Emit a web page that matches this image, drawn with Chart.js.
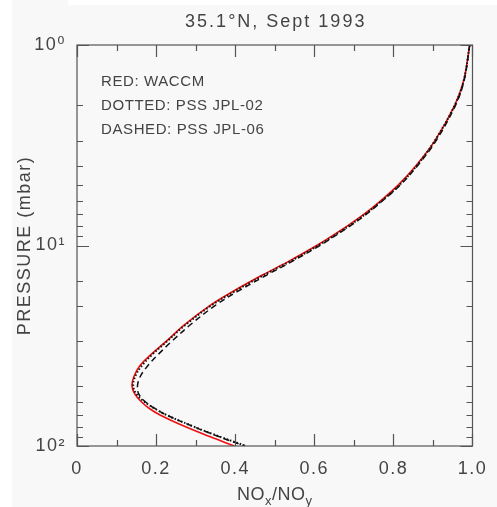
<!DOCTYPE html>
<html><head><meta charset="utf-8">
<script src="https://cdn.jsdelivr.net/npm/chart.js@4/dist/chart.umd.min.js"></script>
<style>html,body{margin:0;padding:0;background:#fff}canvas{display:block}</style>
</head><body>
<canvas id="c" width="497" height="507"></canvas>
<script>
// Pressure levels (mbar)
const pressure = [1, 1.5, 2, 3, 4, 5, 6, 7, 8, 10, 12, 14, 17, 20, 25, 30, 35, 40, 45, 50, 55, 60, 65, 70, 80, 90, 100];
// NOx/NOy, red solid: WACCM
const waccm = [0.993, 0.978, 0.955, 0.905, 0.857, 0.812, 0.767, 0.725, 0.683, 0.606, 0.535, 0.470, 0.393, 0.335, 0.270, 0.226, 0.187, 0.158, 0.144, 0.139, 0.146, 0.162, 0.183, 0.210, 0.273, 0.337, 0.398];
// dotted: PSS JPL-02
const jpl02 = [0.993, 0.978, 0.955, 0.905, 0.859, 0.815, 0.770, 0.728, 0.687, 0.610, 0.539, 0.474, 0.397, 0.338, 0.273, 0.228, 0.190, 0.163, 0.147, 0.142, 0.150, 0.170, 0.196, 0.226, 0.295, 0.362, 0.428];
// dashed: PSS JPL-06
const jpl06 = [0.993, 0.979, 0.957, 0.908, 0.861, 0.817, 0.772, 0.731, 0.690, 0.614, 0.544, 0.481, 0.405, 0.348, 0.285, 0.240, 0.205, 0.178, 0.160, 0.153, 0.156, 0.172, 0.197, 0.226, 0.294, 0.360, 0.425];
const xTickLabels = ['0', '0.2', '0.4', '0.6', '0.8', '1.0'];
const yTickLabels = ['10\u2070', '10\u00b9', '10\u00b2'];
const titleText = '35.1\u00b0N, Sept 1993';
const legendLines = ['RED: WACCM', 'DOTTED: PSS JPL-02', 'DASHED: PSS JPL-06'];

const FONT = '"Liberation Sans", Arial, "DejaVu Sans", sans-serif';
const TXT = '#444';

function pts(arr) { return pressure.map((p, i) => ({x: arr[i], y: p})); }

const decor = {
  id: 'decor',
  beforeDraw(chart) {
    const ctx = chart.ctx;
    ctx.fillStyle = '#fff';
    ctx.fillRect(0, 0, chart.width, chart.height);
    ctx.fillStyle = '#f8f8f8';
    ctx.fillRect(12, 0, 56, chart.height);
    ctx.fillRect(68, 5, chart.width - 68, chart.height - 5);
    ctx.letterSpacing = '1.5px';
  },
  afterDraw(chart) {
    const ctx = chart.ctx;
    const a = chart.chartArea;
    const xs = chart.scales.x, ys = chart.scales.y;
    ctx.save();
    ctx.strokeStyle = '#555';
    ctx.lineWidth = 1.2;
    ctx.strokeRect(a.left, a.top, a.right - a.left, a.bottom - a.top);
    ctx.beginPath();
    xs.ticks.forEach(t => {
      const px = Math.round(xs.getPixelForValue(t.value)) + 0.5;
      const major = Math.abs(t.value * 5 - Math.round(t.value * 5)) < 1e-6;
      const L = major ? 12 : 6;
      ctx.moveTo(px, a.bottom); ctx.lineTo(px, a.bottom - L);
      ctx.moveTo(px, a.top); ctx.lineTo(px, a.top + L);
    });
    ys.ticks.forEach(t => {
      const py = Math.round(ys.getPixelForValue(t.value)) + 0.5;
      const lg = Math.log10(t.value);
      const major = Math.abs(lg - Math.round(lg)) < 1e-6;
      const L = major ? 12 : 6;
      ctx.moveTo(a.left, py); ctx.lineTo(a.left + L, py);
      ctx.moveTo(a.right, py); ctx.lineTo(a.right - L, py);
    });
    ctx.stroke();

    // title
    ctx.fillStyle = TXT;
    ctx.letterSpacing = '2px';
    ctx.font = '18px ' + FONT;
    ctx.textAlign = 'center';
    ctx.textBaseline = 'alphabetic';
    ctx.fillText(titleText, (a.left + a.right) / 2 + 1, 27);

    // legend text
    ctx.letterSpacing = '0.6px';
    ctx.font = '15px ' + FONT;
    ctx.textAlign = 'left';
    legendLines.forEach((s, i) => ctx.fillText(s, a.left + 24, 86 + i * 24));

    // x-axis title NOx/NOy with subscripts
    ctx.letterSpacing = '0.5px';
    const big = '18px ' + FONT, small = '13px ' + FONT;
    const parts = [['NO', big, 0], ['x', small, 5], ['/NO', big, 0], ['y', small, 5]];
    let w = 0;
    parts.forEach(p => { ctx.font = p[1]; w += ctx.measureText(p[0]).width; });
    let x = (a.left + a.right) / 2 - w / 2;
    parts.forEach(p => {
      ctx.font = p[1];
      ctx.fillText(p[0], x, 500 + p[2]);
      x += ctx.measureText(p[0]).width;
    });
    ctx.restore();
  }
};

new Chart(document.getElementById('c'), {
  type: 'scatter',
  data: {
    datasets: [
      {label: 'WACCM', data: pts(waccm), showLine: true, borderColor: '#f01010', borderWidth: 1.6, pointRadius: 0, tension: 0.35, order: 3},
      {label: 'PSS JPL-02', data: pts(jpl02), showLine: true, borderColor: '#111', borderWidth: 2, borderDash: [1.5, 2], pointRadius: 0, tension: 0.35, order: 2},
      {label: 'PSS JPL-06', data: pts(jpl06), showLine: true, borderColor: '#111', borderWidth: 1.5, borderDash: [6, 4], pointRadius: 0, tension: 0.35, order: 1}
    ]
  },
  options: {
    responsive: false,
    animation: false,
    devicePixelRatio: 1,
    layout: {padding: {top: 45, right: 16, left: 0, bottom: 0}},
    plugins: {legend: {display: false}, tooltip: {enabled: false}, title: {display: false}},
    scales: {
      x: {
        type: 'linear', min: 0, max: 1,
        grid: {display: false, drawTicks: false},
        border: {display: false},
        ticks: {
          stepSize: 0.1, autoSkip: false, maxRotation: 0, padding: 12,
          color: TXT, font: {family: FONT, size: 18},
          callback: v => (Math.abs(v * 5 - Math.round(v * 5)) < 1e-6 ? xTickLabels[Math.round(v * 5)] : '')
        },
        afterFit: s => { s.height = 61; }
      },
      y: {
        type: 'logarithmic', min: 1, max: 100, reverse: true,
        grid: {display: false, drawTicks: false},
        border: {display: false},
        title: {display: true, text: 'PRESSURE (mbar)', color: TXT, font: {family: FONT, size: 18}, padding: {top: 14, bottom: 0}},
        ticks: {
          autoSkip: false, padding: 11,
          color: TXT, font: {family: FONT, size: 18},
          callback: v => { const l = Math.log10(v); return Math.abs(l - Math.round(l)) < 1e-6 ? yTickLabels[Math.round(l)] : ''; }
        },
        afterFit: s => { s.width = 77; }
      }
    }
  },
  plugins: [decor]
});
</script>
</body></html>
